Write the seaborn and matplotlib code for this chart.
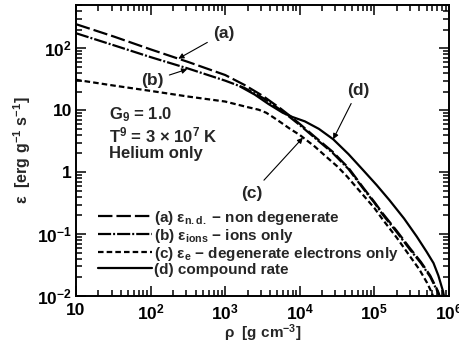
import numpy as np
import pandas as pd
import matplotlib
matplotlib.use("Agg")
import matplotlib.pyplot as plt
import seaborn as sns
from matplotlib.lines import Line2D
from matplotlib.ticker import LogLocator, FuncFormatter, NullFormatter

# curve values (rho in g cm^-3, eps in erg g^-1 s^-1)
rho_a = [10, 32, 100, 320, 1000, 1800, 3200, 5600, 7900, 1.0e4, 1.6e4, 2.75e4, 4.5e4,
         7.1e4, 1.0e5, 1.3e5, 2.0e5, 3.0e5, 4.2e5, 5.6e5, 7.1e5, 7.6e5]
eps_a = [245, 155, 96, 60, 37, 25.7, 17, 10.5, 7.6, 6.0, 3.7, 2.14, 1.17,
         0.56, 0.33, 0.214, 0.112, 0.059, 0.0355, 0.0214, 0.012, 0.0095]

rho_b = [10, 32, 100, 320, 1000, 1800, 3200, 5600, 7900, 1.0e4, 1.6e4, 2.75e4, 4.5e4,
         7.1e4, 1.0e5, 1.3e5, 2.0e5, 3.0e5, 4.2e5, 5.6e5, 7.1e5, 7.6e5]
eps_b = [175, 112, 72, 47, 30, 23, 15.8, 10, 7.2, 5.75, 3.55, 2.05, 1.12,
         0.54, 0.32, 0.204, 0.107, 0.056, 0.034, 0.0204, 0.0115, 0.0089]

rho_c = [10, 32, 100, 320, 1000, 2000, 2800, 3550, 4470, 5620, 7400, 1.0e4, 1.6e4,
         2.3e4, 3.2e4, 4.3e4, 6.3e4, 1.0e5, 1.3e5, 2.0e5, 3.0e5, 4.0e5, 5.1e5, 5.9e5, 6.3e5]
eps_c = [31, 25, 20.5, 16.6, 13.8, 11.2, 10.2, 9.1, 7.6, 6.3, 5.0, 3.98, 2.57,
         1.74, 1.23, 0.85, 0.50, 0.263, 0.17, 0.087, 0.0437, 0.0269, 0.0162, 0.0112, 0.0089]

rho_d = [1600, 2500, 3800, 5900, 7900, 1.17e4, 1.8e4, 2.8e4, 4.5e4, 7.1e4, 1.07e5,
         1.6e5, 2.5e5, 3.7e5, 5.0e5, 6.2e5, 7.2e5, 8.3e5, 8.9e5]
eps_d = [24, 17.8, 12.6, 9.1, 7.8, 6.6, 5.0, 3.4, 1.95, 1.07, 0.62,
         0.35, 0.178, 0.091, 0.052, 0.034, 0.0214, 0.012, 0.008]

labels = {
    "a": r"(a) $\epsilon_{\rm n.d.}$ $-$ non degenerate",
    "b": r"(b) $\epsilon_{\rm ions}$ $-$ ions only",
    "c": r"(c) $\epsilon_{\rm e}$ $-$ degenerate electrons only",
    "d": "(d) compound rate",
}
dash_map = {"a": (6.5, 1.8), "b": (5.9, 0.9, 0.9, 0.9), "c": (2.5, 1.4), "d": ""}

df = pd.concat([
    pd.DataFrame({"rho": rho_a, "eps": eps_a, "curve": "a"}),
    pd.DataFrame({"rho": rho_b, "eps": eps_b, "curve": "b"}),
    pd.DataFrame({"rho": rho_c, "eps": eps_c, "curve": "c"}),
    pd.DataFrame({"rho": rho_d, "eps": eps_d, "curve": "d"}),
], ignore_index=True)

sns.set_style("ticks")
plt.rcParams["font.family"] = ["Liberation Sans", "DejaVu Sans"]
plt.rcParams["font.weight"] = "bold"
plt.rcParams["mathtext.fontset"] = "custom"
plt.rcParams["mathtext.rm"] = "Liberation Sans:bold"
plt.rcParams["mathtext.it"] = "Liberation Sans:italic:bold"
plt.rcParams["mathtext.bf"] = "Liberation Sans:bold"
plt.rcParams["mathtext.default"] = "rm"

fig = plt.figure(figsize=(4.59, 3.47), dpi=100)
ax = fig.add_axes([0.1656, 0.147, 0.8126, 0.8386])

sns.lineplot(data=df, x="rho", y="eps", style="curve", dashes=dash_map, color="k",
             linewidth=1.6, estimator=None, sort=False, legend=False, ax=ax)

ax.set_xscale("log")
ax.set_yscale("log")
ax.set_xlim(10, 1e6)
ax.set_ylim(1e-2, 500)


def fmt(v, pos):
    e = int(round(np.log10(v)))
    if e == 0:
        return "1"
    if e == 1:
        return "10"
    return r"$10^{%d}$" % e


ax.xaxis.set_major_locator(LogLocator(base=10, numticks=10))
ax.yaxis.set_major_locator(LogLocator(base=10, numticks=10))
ax.xaxis.set_minor_locator(LogLocator(base=10, subs=np.arange(2, 10), numticks=10))
ax.yaxis.set_minor_locator(LogLocator(base=10, subs=np.arange(2, 10), numticks=10))
ax.xaxis.set_major_formatter(FuncFormatter(fmt))
ax.yaxis.set_major_formatter(FuncFormatter(fmt))
ax.xaxis.set_minor_formatter(NullFormatter())
ax.yaxis.set_minor_formatter(NullFormatter())
ax.tick_params(which="both", direction="in", top=True, right=True, width=1.1,
               labelsize=12.5, colors="k")
ax.tick_params(which="major", length=7, pad=3)
ax.tick_params(axis="x", which="major", pad=5)
ax.tick_params(which="minor", length=4)
for s in ax.spines.values():
    s.set_linewidth(1.4)
    s.set_color("k")

ax.set_xlabel(r"$\rho$  [g cm$^{-3}$]", fontsize=11, fontweight="bold", labelpad=0)
ax.set_ylabel(r"$\epsilon$  [erg g$^{-1}$ s$^{-1}$]", fontsize=11.5, fontweight="bold",
              labelpad=3)

# legend
handles = [Line2D([], [], color="k", lw=1.6,
                  **({"dashes": dash_map[k]} if dash_map[k] else {"linestyle": "-"}))
           for k in ["a", "b", "c", "d"]]
ax.legend(handles, [labels[k] for k in ["a", "b", "c", "d"]], loc="upper left",
          bbox_to_anchor=(0.06, 0.30), frameon=False, fontsize=11,
          handlelength=3.5, handletextpad=0.15, labelspacing=0.0,
          borderpad=0, borderaxespad=0)

# parameters block
ax.text(0.088, 0.622, r"G$_9$ = 1.0", transform=ax.transAxes, fontsize=12, va="center")
ax.text(0.088, 0.553, r"T$^9$ = 3 $\times$ 10$^7$ K", transform=ax.transAxes,
        fontsize=12, va="center")
ax.text(0.088, 0.491, "Helium only", transform=ax.transAxes, fontsize=12, va="center")

arrow = dict(arrowstyle="-|>", color="k", lw=0.8, mutation_scale=8, shrinkA=2, shrinkB=0)
ax.annotate("(a)", xy=(235, 68), xytext=(955, 175), ha="center", va="center",
            fontsize=12.5, arrowprops=arrow)
ax.annotate("(b)", xy=(310, 46), xytext=(105, 30), ha="center", va="center",
            fontsize=12.5, arrowprops=arrow)
ax.annotate("(d)", xy=(2.8e4, 3.4), xytext=(6.0e4, 21), ha="center", va="center",
            fontsize=12.5, arrowprops=arrow)
ax.annotate("(c)", xy=(1.1e4, 3.6), xytext=(2300, 0.46), ha="center", va="center",
            fontsize=12.5, arrowprops=arrow)

fig.savefig("out.png", dpi=100)
